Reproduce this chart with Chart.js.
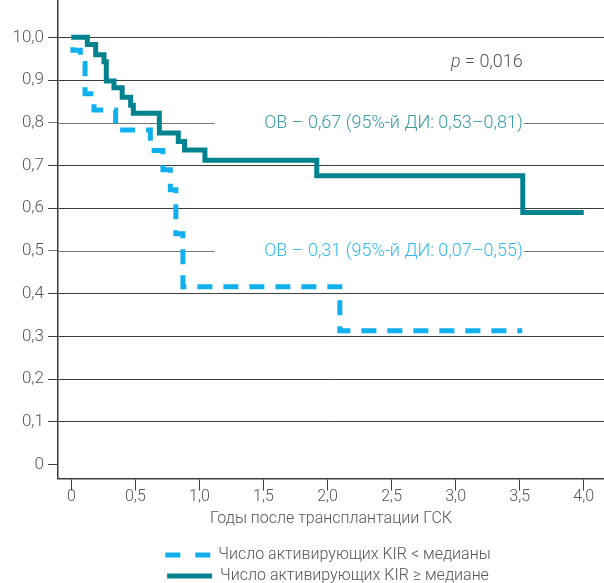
<!DOCTYPE html>
<html>
<head>
<meta charset="utf-8">
<script src="https://cdn.jsdelivr.net/npm/chart.js@4"></script>
<style>
  html, body { margin: 0; padding: 0; background: #fff; }
  #wrap { width: 604px; height: 583px; }
</style>
</head>
<body>
<div id="wrap"><canvas id="km"></canvas></div>
<script>
// Kaplan-Meier: overall survival by number of activating KIR

const xTickValues = [0, 0.5, 1, 1.5, 2, 2.5, 3, 3.5, 4];
const xTickLabels = ['0', '0,5', '1,0', '1,5', '2,0', '2,5', '3,0', '3,5', '4,0'];
const yTickValues = [0, 0.1, 0.2, 0.3, 0.4, 0.5, 0.6, 0.7, 0.8, 0.9, 1];
const yTickLabels = ['0', '0,1', '0,2', '0,3', '0,4', '0,5', '0,6', '0,7', '0,8', '0,9', '10,0'];

// group 1: activating KIR < median (dashed)
const lowTimes = [0, 0.012, 0.07, 0.107, 0.177, 0.346, 0.617, 0.715, 0.773, 0.816, 0.871, 2.096, 3.52];
const lowSurv  = [1.0, 0.97, 0.939, 0.868, 0.83, 0.783, 0.735, 0.69, 0.643, 0.54, 0.416, 0.313, 0.313];

// group 2: activating KIR >= median (solid)
const highTimes = [0, 0.125, 0.19, 0.255, 0.273, 0.333, 0.397, 0.463, 0.484, 0.687, 0.835, 0.884, 1.043, 1.916, 3.524, 4.0];
const highSurv  = [1.0, 0.983, 0.959, 0.943, 0.898, 0.882, 0.86, 0.841, 0.822, 0.776, 0.756, 0.736, 0.712, 0.676, 0.59, 0.59];

const seriesNames = ['Число активирующих KIR < медианы', 'Число активирующих KIR ≥ медиане'];
const xTitle = 'Годы после трансплантации ГСК';
const hrLabels = ['ОВ – 0,67 (95%-й ДИ: 0,53–0,81)', 'ОВ – 0,31 (95%-й ДИ: 0,07–0,55)'];
const hrLevels = [0.8, 0.5];
const pText = '0,016';

const TEAL = '#00838f';
const BLUE = '#10b0ee';
const GRID = '#3c3c3c';
const TEXT = '#555555';
const FONT = 'Roboto, "DejaVu Sans", sans-serif';

const toPoints = (xs, ys) => xs.map((x, i) => ({ x: x, y: ys[i] }));

// lines at 0.8 / 0.5 are broken by the HR text, drawn here instead of the grid
const annotations = {
  id: 'annotations',
  beforeDatasetsDraw(chart) {
    const { ctx, chartArea, scales } = chart;
    const xs = scales.x, ys = scales.y;
    const textRight = xs.getPixelForValue(3.524);
    const colors = ['#3a9ba6', '#34b9ee'];
    ctx.save();
    ctx.font = '300 18px ' + FONT;
    ctx.textBaseline = 'middle';
    hrLevels.forEach((lvl, i) => {
      const y = Math.round(ys.getPixelForValue(lvl)) + 0.5;
      ctx.strokeStyle = '#777';
      ctx.lineWidth = 1;
      ctx.beginPath();
      ctx.moveTo(chartArea.left, y);
      ctx.lineTo(xs.getPixelForValue(1.12), y);
      ctx.moveTo(textRight + 1, y);
      ctx.lineTo(chartArea.right, y);
      ctx.stroke();
      ctx.fillStyle = colors[i];
      ctx.textAlign = 'right';
      ctx.fillText(hrLabels[i], textRight, y);
    });
    // p value
    const py = ys.getPixelForValue(0.94);
    ctx.fillStyle = TEXT;
    ctx.textAlign = 'right';
    const rest = ' = ' + pText;
    ctx.fillText(rest, textRight, py);
    const rw = ctx.measureText(rest).width;
    ctx.font = 'italic 300 18px ' + FONT;
    ctx.fillText('p', textRight - rw, py);
    ctx.restore();
  }
};

// nudge the legend to the right, like in the figure
const legendShift = {
  id: 'legendShift',
  afterLayout(chart) {
    chart.legend.left += 26;
    chart.legend.right += 26;
  }
};

const ctx = document.getElementById('km').getContext('2d');
const chart = new Chart(ctx, {
  type: 'line',
  data: {
    datasets: [{
      label: seriesNames[0],
      data: toPoints(lowTimes, lowSurv),
      borderColor: BLUE,
      backgroundColor: BLUE,
      borderWidth: 5,
      borderDash: [15, 11],
      borderDashOffset: 14.5,
      borderJoinStyle: 'miter',
      stepped: true,
      pointRadius: 0,
      fill: false
    }, {
      label: seriesNames[1],
      data: toPoints(highTimes, highSurv),
      borderColor: TEAL,
      backgroundColor: TEAL,
      borderWidth: 5,
      borderJoinStyle: 'miter',
      stepped: true,
      pointRadius: 0,
      fill: false
    }]
  },
  options: {
    responsive: true,
    maintainAspectRatio: false,
    animation: false,
    layout: { padding: { left: 0, right: 0, top: 0, bottom: -11 } },
    plugins: {
      tooltip: { enabled: false },
      legend: {
        position: 'bottom',
        labels: {
          usePointStyle: true,
          pointStyleWidth: 45,
          padding: 5,
          color: TEXT,
          font: { family: FONT, size: 16, weight: '300' },
          generateLabels(chart) {
            const items = Chart.defaults.plugins.legend.labels.generateLabels(chart);
            items.forEach((it, i) => {
              it.pointStyle = 'line';
              it.lineDash = i === 0 ? [15, 15] : [];
              it.lineDashOffset = 0;
            });
            return items;
          }
        }
      }
    },
    scales: {
      x: {
        type: 'linear',
        min: -0.104,
        max: 4.158,
        afterBuildTicks(scale) {
          scale.ticks = xTickValues.map(v => ({ value: v }));
        },
        afterFit(scale) { scale.paddingLeft = 0; scale.paddingRight = 0; },
        ticks: {
          autoSkip: false,
          maxRotation: 0,
          padding: -3,
          color: TEXT,
          font: { family: FONT, size: 16, weight: '300' },
          callback: (value, index) => xTickLabels[index]
        },
        grid: {
          drawOnChartArea: false,
          tickLength: 12,
          tickColor: GRID,
          tickWidth: 1
        },
        border: { color: GRID, width: 1.5 },
        title: {
          display: true,
          text: xTitle,
          color: TEXT,
          padding: { top: 5.7, bottom: 13.4 },
          font: { family: FONT, size: 16, weight: '300' }
        }
      },
      y: {
        type: 'linear',
        min: -0.0328,
        max: 1.0874,
        afterFit(scale) {
          scale.width = 58;
          scale.paddingTop = 0;
          scale.paddingBottom = 0;
        },
        afterBuildTicks(scale) {
          scale.ticks = yTickValues.map(v => ({ value: v }));
        },
        ticks: {
          autoSkip: false,
          padding: 4,
          color: TEXT,
          font: { family: FONT, size: 17, weight: '300' },
          callback: (value, index) => yTickLabels[index]
        },
        grid: {
          tickLength: 10,
          lineWidth: 1,
          color: c => (c.tick && hrLevels.concat([0]).includes(c.tick.value)) ? 'rgba(0,0,0,0)' : GRID,
          tickColor: c => (c.tick && hrLevels.includes(c.tick.value)) ? '#777' : GRID
        },
        border: { color: GRID, width: 1.5 }
      }
    }
  },
  plugins: [annotations, legendShift]
});
</script>
</body>
</html>
